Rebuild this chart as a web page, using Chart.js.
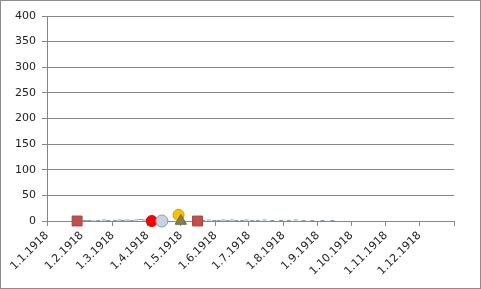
<!DOCTYPE html>
<html>
<head>
<meta charset="utf-8">
<script src="https://cdn.jsdelivr.net/npm/chart.js@4"></script>
<style>
  html, body { margin: 0; padding: 0; background: #fff; }
  #wrap { width: 481px; height: 289px; }
</style>
</head>
<body>
<div id="wrap"><canvas id="chart"></canvas></div>
<script>
// month ticks on the date axis
const tickDates = ['1.1.1918', '1.2.1918', '1.3.1918', '1.4.1918', '1.5.1918', '1.6.1918',
                   '1.7.1918', '1.8.1918', '1.9.1918', '1.10.1918', '1.11.1918', '1.12.1918', '1.1.1919'];
const yTicks = [0, 50, 100, 150, 200, 250, 300, 350, 400];

// series
const squareDates = ['28.1.1918', '16.5.1918'];
const squareValues = [0, 0];
const redCircleDates = ['5.4.1918'];
const redCircleValues = [0];
const grayCircleDates = ['14.4.1918'];
const grayCircleValues = [0];
const yellowDates = ['29.4.1918'];
const yellowValues = [12];
const triangleDates = ['1.5.1918'];
const triangleValues = [0];
const smallDates = ['4.2.1918', '8.2.1918', '12.2.1918', '16.2.1918', '21.2.1918', '25.2.1918',
                    '3.3.1918', '7.3.1918', '10.3.1918', '14.3.1918', '18.3.1918', '22.3.1918',
                    '26.3.1918', '29.3.1918', '2.4.1918',
                    '21.5.1918', '26.5.1918', '31.5.1918', '4.6.1918', '8.6.1918', '12.6.1918',
                    '16.6.1918', '20.6.1918', '25.6.1918', '29.6.1918', '4.7.1918', '9.7.1918',
                    '15.7.1918', '22.7.1918', '30.7.1918', '6.8.1918', '12.8.1918', '19.8.1918',
                    '27.8.1918', '5.9.1918', '14.9.1918'];
const smallValues = [1, 1, 0, 1, 2, 1,
                     1, 2, 1, 2, 1, 2,
                     3, 2, 1,
                     1, 2, 1, 1, 2, 1,
                     2, 1, 1, 2, 1, 1,
                     2, 1, 1, 1, 2, 1,
                     1, 1, 1];

const base = Date.UTC(1918, 0, 1);
function dayOf(s) {
  const p = s.split('.').map(Number);
  return (Date.UTC(p[2], p[1] - 1, p[0]) - base) / 86400000;
}
function points(dates, values) {
  return dates.map((d, i) => ({ x: dayOf(d), y: values[i] }));
}
const tickDays = tickDates.map(dayOf);
const labelOf = {};
tickDates.forEach((d, i) => { labelOf[tickDays[i]] = i < 12 ? d : ''; });

const frame = {
  id: 'frame',
  beforeDraw(chart) {
    const c = chart.ctx;
    c.save();
    c.fillStyle = '#fff';
    c.fillRect(0, 0, chart.width, chart.height);
    c.strokeStyle = '#8c8c8c';
    c.lineWidth = 1;
    c.strokeRect(0.5, 0.5, chart.width - 1, chart.height - 1);
    c.restore();
  }
};

new Chart(document.getElementById('chart'), {
  type: 'scatter',
  data: {
    datasets: [
      {
        data: points(triangleDates, triangleValues),
        pointStyle: 'triangle', pointRadius: 6.5, clip: false,
        backgroundColor: '#8c8048', borderColor: '#6f6535', borderWidth: 1, order: 1
      },
      {
        data: points(yellowDates, yellowValues),
        pointStyle: 'circle', pointRadius: 5.5, clip: false,
        backgroundColor: '#ffc000', borderColor: '#c89a10', borderWidth: 1, order: 2
      },
      {
        data: points(grayCircleDates, grayCircleValues),
        pointStyle: 'circle', pointRadius: 6, clip: false,
        backgroundColor: '#c8d2e0', borderColor: '#8e9bb0', borderWidth: 1, order: 3
      },
      {
        data: points(redCircleDates, redCircleValues),
        pointStyle: 'circle', pointRadius: 5.5, clip: false,
        backgroundColor: '#ff0000', borderColor: '#e00000', borderWidth: 1, order: 4
      },
      {
        data: points(squareDates, squareValues),
        pointStyle: 'rect', pointRadius: 7, clip: false,
        backgroundColor: '#c0504d', borderColor: '#a8403d', borderWidth: 1, order: 5
      },
      {
        data: points(smallDates, smallValues),
        pointStyle: 'line', pointRadius: 2, clip: false,
        backgroundColor: '#7f9cc0', borderColor: '#7f9cc0', borderWidth: 1, order: 6
      }
    ]
  },
  options: {
    responsive: true,
    maintainAspectRatio: false,
    animation: false,
    events: [],
    layout: { padding: { left: 0, right: 27, top: 16, bottom: 0 } },
    plugins: { legend: { display: false }, tooltip: { enabled: false } },
    scales: {
      x: {
        type: 'linear',
        min: 0,
        max: 365,
        afterBuildTicks: s => { s.ticks = tickDays.map(v => ({ value: v })); },
        afterFit: s => { s.height = 68; },
        grid: { drawOnChartArea: false, drawTicks: true, tickLength: 5, color: '#868686' },
        border: { color: '#868686' },
        ticks: {
          autoSkip: false,
          minRotation: 45,
          maxRotation: 45,
          padding: 3,
          color: '#222',
          font: { family: 'DejaVu Sans', size: 11 },
          callback: v => labelOf[v]
        }
      },
      y: {
        min: 0,
        max: 400,
        afterBuildTicks: s => { s.ticks = yTicks.map(v => ({ value: v })); },
        afterFit: s => { s.width = 47; },
        grid: { color: '#868686', tickLength: 5 },
        border: { color: '#868686' },
        ticks: {
          padding: 6,
          color: '#222',
          font: { family: 'DejaVu Sans', size: 11 }
        }
      }
    }
  },
  plugins: [frame]
});
</script>
</body>
</html>
